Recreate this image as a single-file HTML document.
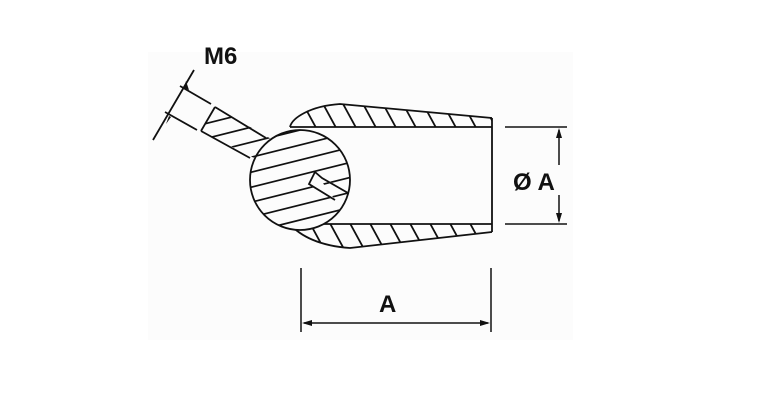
<!DOCTYPE html>
<html><head><style>
body{margin:0;background:#fff;width:768px;height:400px;overflow:hidden}
svg{display:block}
text{font-family:"Liberation Sans",sans-serif;font-weight:bold;fill:#111}
</style></head><body>
<svg width="768" height="400" viewBox="0 0 768 400">
<defs>
<clipPath id="tube"><path d="M492,118 L340,104 C310,106 292,118 290,127 L492,127 Z M492,232 L350,248 C320,246 300,236 290,224 L492,224 Z"/></clipPath>
<clipPath id="ball"><circle cx="300" cy="180" r="50"/><path d="M215,107 L273,140 L258,160 L201,131 Z"/></clipPath>
</defs>
<rect x="148" y="52" width="425" height="288" fill="#fcfcfc"/>
<g clip-path="url(#tube)" stroke="#111" stroke-width="1.8">
<path d="M290,80 l30,55 M310,80 l30,55 M330,80 l30,55 M350,80 l30,55 M370,80 l30,55 M390,80 l30,55 M410,80 l30,55 M430,80 l30,55 M450,80 l30,55 M470,80 l30,55 M490,80 l30,55
M280,205 l30,55 M300,205 l30,55 M320,205 l30,55 M340,205 l30,55 M360,205 l30,55 M380,205 l30,55 M400,205 l30,55 M420,205 l30,55 M440,205 l30,55 M460,205 l30,55"/>
</g>
<g stroke="#111" stroke-width="1.8" fill="none">
<path d="M492,118 L340,104 C310,106 292,118 290,127"/>
<path d="M492,232 L350,248 C320,246 300,236 290,224"/>
<path d="M290,127 L492,127 M290,224 L492,224 M492,118 L492,232"/>
</g>
<circle cx="300" cy="180" r="50" fill="#fcfcfc"/>
<path d="M215,107 L266,138 L273,140 L258,160 L250,158 L201,131 Z" fill="#fcfcfc"/>
<g clip-path="url(#ball)" stroke="#111" stroke-width="1.8">
<path d="M180,130 l200,-50 M180,145 l200,-50 M180,160 l200,-50 M180,175 l200,-50 M180,190 l200,-50 M180,205 l200,-50 M180,220 l200,-50 M180,235 l200,-50 M180,250 l200,-50 M180,265 l200,-50 M180,280 l200,-50 M180,295 l200,-50"/>
</g>
<g stroke="#111" stroke-width="1.8" fill="none">
<circle cx="300" cy="180" r="50"/>
<path d="M215,107 L266,138 M201,131 L250,158 M215,107 L201,131"/>
<path d="M315,172 L322,178 L348,193 M315,172 L309,184 L335,200" fill="#fcfcfc"/>
<path d="M180,86 L211,104 M165,112 L197,130 M153,140 L194,70"/>
</g>
<path d="M186,81 l-2,7 l5,2 z M171,117 l-5,7 l3,-8 z" fill="#111"/>
<g stroke="#111" stroke-width="1.5" fill="none">
<path d="M505,127 L567,127 M505,224 L567,224 M559,130 L559,165 M559,195 L559,221"/>
<path d="M301,268 L301,332 M491,268 L491,332 M304,323 L488,323"/>
</g>
<path d="M559,128 l-3,10 h6 z M559,223 l-3,-10 h6 z M302,323 l10,-3 v6 z M490,323 l-10,-3 v6 z" fill="#111"/>
<text x="204" y="64" font-size="24">M6</text>
<text x="513" y="190" font-size="24">Ø A</text>
<text x="379" y="312" font-size="24">A</text>
</svg>
</body></html>
